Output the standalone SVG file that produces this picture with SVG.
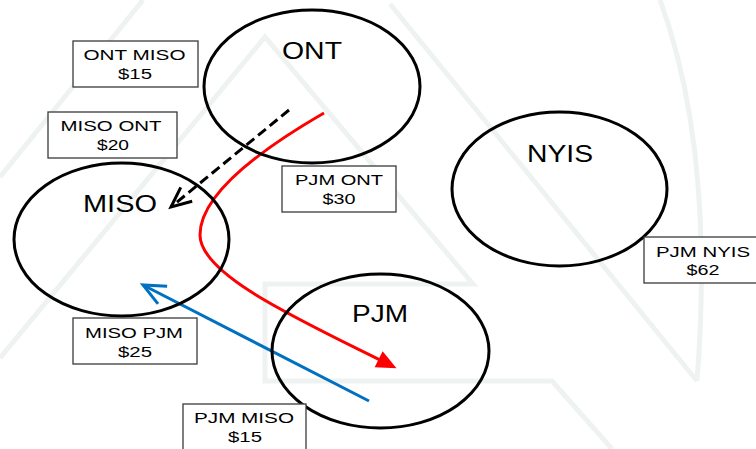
<svg xmlns="http://www.w3.org/2000/svg" width="756" height="449" viewBox="0 0 756 449">
  <style>
    .wm { fill: none; stroke: #eef3f1; stroke-width: 5; }
    .node { fill: none; stroke: #000; stroke-width: 3; }
    .nlabel { font-family: "Liberation Sans", Arial, sans-serif; font-size: 23px; fill: #000; text-anchor: middle; }
    .box { fill: #fff; stroke: #3a3a3a; stroke-width: 1.3; }
    .blabel { font-family: "Liberation Sans", Arial, sans-serif; font-size: 15px; fill: #000; text-anchor: middle; }
  </style>
  <defs>
    <marker id="openBlack" markerUnits="userSpaceOnUse" viewBox="-24 -12 28 24" refX="0" refY="0" markerWidth="28" markerHeight="24" orient="auto" overflow="visible">
      <path d="M-20,-9 L0,0 L-20,9" fill="none" stroke="#000" stroke-width="3"/>
    </marker>
    <marker id="openBlue" markerUnits="userSpaceOnUse" viewBox="-24 -12 28 24" refX="0" refY="0" markerWidth="28" markerHeight="24" orient="auto" overflow="visible">
      <path d="M-22,-10 L0,0 L-22,10" fill="none" stroke="#0070c0" stroke-width="3"/>
    </marker>
    <marker id="triRed" markerUnits="userSpaceOnUse" viewBox="-10 -12 28 24" refX="0" refY="0" markerWidth="28" markerHeight="24" orient="auto" overflow="visible">
      <path d="M-6,-9 L14,0 L-6,9 Z" fill="#ff0000"/>
    </marker>
  </defs>

  <rect width="756" height="449" fill="#fff"/>

  <g id="watermark">
    <path class="wm" d="M143,0 L0,177"/>
    <path class="wm" d="M0,358 L265,37 L473,284 L265,284 L265,381 L552,381 L612,449"/>
    <path class="wm" d="M390,4 L697,381"/>
    <path class="wm" d="M660,0 Q715,150 697,381"/>
  </g>

  <g id="connectors">
    <path id="miso-ont" d="M289,110 L171,207" fill="none" stroke="#000" stroke-width="3" stroke-dasharray="10,5" marker-end="url(#openBlack)"/>
    <path id="ont-pjm" d="M324,113 C260,150 200,195 200,235 C200,275 300,320 384,362" fill="none" stroke="#ff0000" stroke-width="3" marker-end="url(#triRed)"/>
    <path id="pjm-miso" d="M369,401 L143,285" fill="none" stroke="#0070c0" stroke-width="3" marker-end="url(#openBlue)"/>
  </g>

  <g id="ONT">
    <ellipse class="node" cx="312" cy="86.5" rx="108" ry="76.5"/>
    <text class="nlabel" x="312" y="59" textLength="60" lengthAdjust="spacingAndGlyphs">ONT</text>
  </g>
  <g id="MISO">
    <ellipse class="node" cx="121.5" cy="239.5" rx="107.5" ry="76.5"/>
    <text class="nlabel" x="120" y="212" textLength="74" lengthAdjust="spacingAndGlyphs">MISO</text>
  </g>
  <g id="NYIS">
    <ellipse class="node" cx="559.5" cy="189" rx="107.5" ry="77"/>
    <text class="nlabel" x="560" y="162" textLength="66" lengthAdjust="spacingAndGlyphs">NYIS</text>
  </g>
  <g id="PJM">
    <ellipse class="node" cx="380.5" cy="351" rx="108.5" ry="77"/>
    <text class="nlabel" x="380" y="322" textLength="56" lengthAdjust="spacingAndGlyphs">PJM</text>
  </g>

  <g id="label-ont-miso">
    <rect class="box" x="73" y="41" width="125" height="46"/>
    <text class="blabel" x="134.5" y="60" textLength="102" lengthAdjust="spacingAndGlyphs">ONT MISO</text>
    <text class="blabel" x="135" y="79" textLength="34" lengthAdjust="spacingAndGlyphs">$15</text>
  </g>
  <g id="label-miso-ont">
    <rect class="box" x="48" y="112" width="129" height="46"/>
    <text class="blabel" x="111" y="131" textLength="101" lengthAdjust="spacingAndGlyphs">MISO ONT</text>
    <text class="blabel" x="113" y="150" textLength="32" lengthAdjust="spacingAndGlyphs">$20</text>
  </g>
  <g id="label-pjm-ont">
    <rect class="box" x="282" y="166" width="114" height="46"/>
    <text class="blabel" x="339" y="185" textLength="88" lengthAdjust="spacingAndGlyphs">PJM ONT</text>
    <text class="blabel" x="339" y="204" textLength="33" lengthAdjust="spacingAndGlyphs">$30</text>
  </g>
  <g id="label-pjm-nyis">
    <rect class="box" x="644" y="237" width="114" height="46"/>
    <text class="blabel" x="703" y="257" textLength="94" lengthAdjust="spacingAndGlyphs">PJM NYIS</text>
    <text class="blabel" x="703" y="275" textLength="33" lengthAdjust="spacingAndGlyphs">$62</text>
  </g>
  <g id="label-miso-pjm">
    <rect class="box" x="73" y="318" width="124" height="46"/>
    <text class="blabel" x="134" y="338" textLength="98" lengthAdjust="spacingAndGlyphs">MISO PJM</text>
    <text class="blabel" x="135" y="357" textLength="34" lengthAdjust="spacingAndGlyphs">$25</text>
  </g>
  <g id="label-pjm-miso">
    <rect class="box" x="183" y="404" width="123" height="50"/>
    <text class="blabel" x="244" y="423" textLength="100" lengthAdjust="spacingAndGlyphs">PJM MISO</text>
    <text class="blabel" x="245" y="442" textLength="34" lengthAdjust="spacingAndGlyphs">$15</text>
  </g>
</svg>
